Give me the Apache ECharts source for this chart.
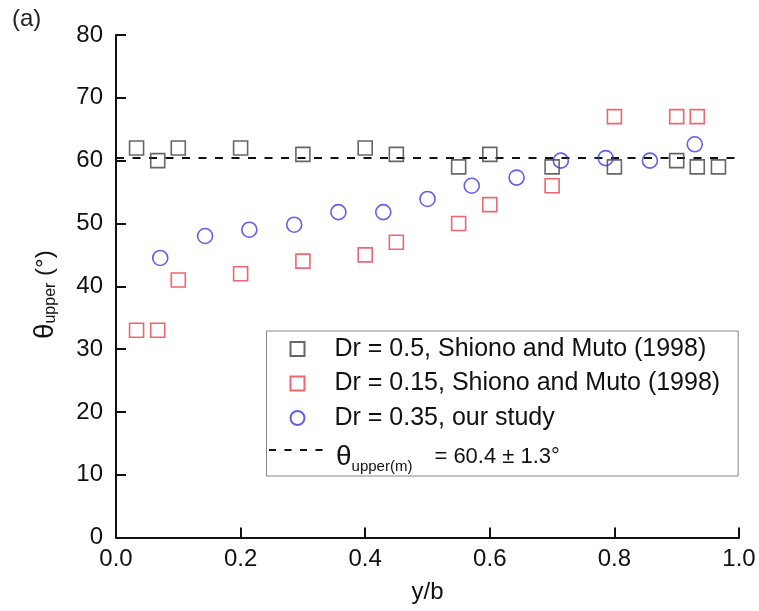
<!DOCTYPE html>
<html>
<head>
<meta charset="utf-8">
<script src="https://cdn.jsdelivr.net/npm/echarts@6/dist/echarts.min.js"></script>
<style>
  html, body { margin: 0; padding: 0; background: #fff; }
  #chart { width: 759px; height: 611px; }
</style>
</head>
<body>
<div id="chart"></div>
<script>
// Upper shear-layer angle across the normalised width y/b
const xTicks = [0.0, 0.2, 0.4, 0.6, 0.8, 1.0];
const yTicks = [0, 10, 20, 30, 40, 50, 60, 70, 80];

// Dr = 0.5, Shiono and Muto (1998)
const shionoDr05X = [0.033, 0.067, 0.1, 0.2, 0.3, 0.4, 0.45, 0.55, 0.6, 0.7, 0.8, 0.9, 0.933, 0.967];
const shionoDr05Y = [62, 60, 62, 62, 61, 62, 61, 59, 61, 59, 59, 60, 59, 59];

// Dr = 0.15, Shiono and Muto (1998)
const shionoDr015X = [0.033, 0.067, 0.1, 0.2, 0.3, 0.4, 0.45, 0.55, 0.6, 0.7, 0.8, 0.9, 0.933];
const shionoDr015Y = [33, 33, 41, 42, 44, 45, 47, 50, 53, 56, 67, 67, 67];

// Dr = 0.35, our study
const studyX = [0.071, 0.143, 0.214, 0.286, 0.357, 0.429, 0.5, 0.571, 0.643, 0.714, 0.786, 0.857, 0.929];
const studyY = [44.5, 48.0, 49.0, 49.8, 51.8, 51.8, 53.9, 56.0, 57.3, 60.0, 60.4, 60.0, 62.6];

// Mean angle line
const meanX = [0, 1];
const meanY = [60.4, 60.4];

const seriesNames = [
  'Dr = 0.5, Shiono and Muto (1998)',
  'Dr = 0.15, Shiono and Muto (1998)',
  'Dr = 0.35, our study',
  'θupper(m) = 60.4 ± 1.3°'
];

const zip = (xs, ys) => xs.map((x, i) => [x, ys[i]]);

const FONT = '"Liberation Sans", Arial, Helvetica, sans-serif';
const AXIS_COLOR = '#111';
const TEXT_COLOR = '#111';

const chart = echarts.init(document.getElementById('chart'), null, { renderer: 'canvas' });

const option = {
  animation: false,
  backgroundColor: '#fff',
  textStyle: { fontFamily: FONT },
  title: {
    text: '(a)',
    left: 7,
    top: 2,
    textStyle: { fontFamily: FONT, fontSize: 24, fontWeight: 'normal', color: '#222' }
  },
  grid: { left: 116, right: 20, top: 35, bottom: 73.5, containLabel: false },
  xAxis: {
    type: 'value',
    min: xTicks[0],
    max: xTicks[xTicks.length - 1],
    interval: 0.2,
    name: 'y/b',
    nameLocation: 'middle',
    nameGap: 43,
    nameTextStyle: { fontFamily: FONT, fontSize: 24, color: TEXT_COLOR },
    axisLine: { show: true, onZero: false, lineStyle: { color: AXIS_COLOR, width: 2 } },
    axisTick: { show: true, inside: true, length: 10, lineStyle: { color: AXIS_COLOR, width: 2 } },
    axisLabel: {
      margin: 10,
      fontFamily: FONT, fontSize: 24, color: TEXT_COLOR,
      formatter: v => v.toFixed(1)
    },
    splitLine: { show: false }
  },
  yAxis: {
    type: 'value',
    min: yTicks[0],
    max: yTicks[yTicks.length - 1],
    interval: 10,
    name: '{t|θ}{s|upper}{p| (°)}',
    nameLocation: 'middle',
    nameRotate: 90,
    nameGap: 57,
    nameTextStyle: {
      fontFamily: FONT, color: TEXT_COLOR,
      padding: [0, 17, 0, 0],
      rich: {
        t: { fontFamily: FONT, fontSize: 28, lineHeight: 28, color: TEXT_COLOR },
        s: { fontFamily: FONT, fontSize: 16, lineHeight: 15, verticalAlign: 'bottom', color: TEXT_COLOR },
        p: { fontFamily: FONT, fontSize: 24, lineHeight: 28, color: TEXT_COLOR }
      }
    },
    axisLine: { show: true, onZero: false, lineStyle: { color: AXIS_COLOR, width: 2 } },
    axisTick: { show: true, inside: true, length: 10, lineStyle: { color: AXIS_COLOR, width: 2 } },
    axisLabel: { margin: 13, fontFamily: FONT, fontSize: 24, color: TEXT_COLOR },
    splitLine: { show: false }
  },
  legend: [
    {
      data: seriesNames.slice(0, 3),
      orient: 'vertical',
      left: 266.5,
      top: 331,
      padding: [5, 18, 45, 23],
      itemWidth: 14,
      itemHeight: 14,
      itemGap: 8.5,
      borderColor: '#888',
      borderWidth: 1,
      borderRadius: 0,
      selectedMode: false,
      formatter: name => '{g|}' + name,
      textStyle: {
        fontFamily: FONT, fontSize: 25, lineHeight: 26, color: TEXT_COLOR,
        rich: { g: { width: 25 } }
      }
    },
    {
      data: [seriesNames[3]],
      orient: 'vertical',
      left: 268,
      top: 443,
      padding: 0,
      itemWidth: 62,
      itemHeight: 14,
      selectedMode: false,
      lineStyle: { type: [7, 8.5], width: 2, color: '#111' },
      itemStyle: { color: 'rgba(0,0,0,0)', borderColor: 'rgba(0,0,0,0)', borderWidth: 0 },
      formatter: () => '{t|θ}{s|upper(m)}{n|= 60.4 ± 1.3°}',
      textStyle: {
        fontFamily: FONT, color: TEXT_COLOR,
        padding: [14, 0, 0, 0],
        rich: {
          t: { fontFamily: FONT, fontSize: 28, lineHeight: 34, color: TEXT_COLOR },
          s: { fontFamily: FONT, fontSize: 15, lineHeight: 14, verticalAlign: 'bottom', color: TEXT_COLOR },
          n: { fontFamily: FONT, fontSize: 22, lineHeight: 34, padding: [0, 0, 0, 22], color: TEXT_COLOR }
        }
      }
    }
  ],
  series: [
    {
      name: seriesNames[3],
      type: 'line',
      data: zip(meanX, meanY),
      symbol: 'none',
      silent: true,
      z: 1,
      itemStyle: { color: '#111' },
      lineStyle: { color: '#111', width: 2, type: [8, 8.5] }
    },
    {
      name: seriesNames[0],
      type: 'scatter',
      data: zip(shionoDr05X, shionoDr05Y),
      symbol: 'rect',
      symbolSize: 14,
      z: 3,
      itemStyle: { color: 'rgba(255,255,255,0)', borderColor: '#404040', borderWidth: 1.6 }
    },
    {
      name: seriesNames[1],
      type: 'scatter',
      data: zip(shionoDr015X, shionoDr015Y),
      symbol: 'rect',
      symbolSize: 14,
      z: 3,
      itemStyle: { color: 'rgba(255,255,255,0)', borderColor: '#e8404c', borderWidth: 1.6 }
    },
    {
      name: seriesNames[2],
      type: 'scatter',
      data: zip(studyX, studyY),
      symbol: 'circle',
      symbolSize: 15,
      z: 3,
      itemStyle: { color: 'rgba(255,255,255,0)', borderColor: '#3a3ae0', borderWidth: 1.6 }
    }
  ]
};

chart.setOption(option);
</script>
</body>
</html>
